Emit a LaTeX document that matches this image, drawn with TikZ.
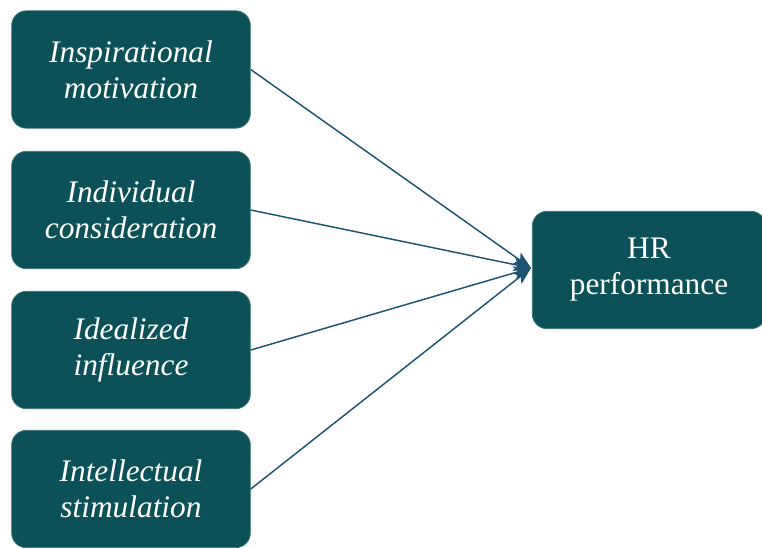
\documentclass[tikz,border=0pt]{standalone}
\usepackage{fontspec}
\setmainfont{Liberation Serif}
\usetikzlibrary{arrows.meta}
\definecolor{boxteal}{HTML}{0B5157}
\definecolor{linkblue}{HTML}{1D5470}
\begin{document}
\begin{tikzpicture}[x=0.75pt,y=-0.75pt,
  factor/.style={draw=boxteal!80!white, line width=0.6pt, fill=boxteal, rounded corners=11pt,
     minimum width=179pt, minimum height=88pt, text=white, align=center,
     font=\fontsize{23.5}{27}\selectfont\itshape},
  outcome/.style={factor, minimum width=175pt, font=\fontsize{23.5}{27}\selectfont},
  link/.style={draw=linkblue, line width=1.1pt, -{Stealth[length=13pt,width=10pt,inset=3pt]}}]
\useasboundingbox (0,0) rectangle (762,547);
\node[factor] (im) at (131,69.5) {Inspirational\\motivation};
\node[factor] (ic) at (131,210) {Individual\\consideration};
\node[factor] (ii) at (131,350) {Idealized\\influence};
\node[factor] (is) at (131,489) {Intellectual\\stimulation};
\node[outcome] (hr) at (649,270) {HR\\performance};
\coordinate (tip) at (531,268);
\draw[link] (im.east) -- (tip);
\draw[link] (ic.east) -- (tip);
\draw[link] (ii.east) -- (tip);
\draw[link] (is.east) -- (tip);
\end{tikzpicture}
\end{document}
